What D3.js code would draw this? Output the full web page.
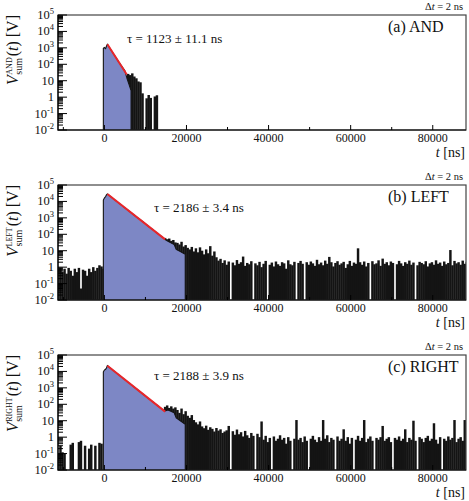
<!DOCTYPE html>
<html>
<head>
<meta charset="utf-8">
<script src="https://cdn.jsdelivr.net/npm/d3@7"></script>
<style>
body { margin: 0; background: #fff; }
text { font-family: "Liberation Serif", "Times New Roman", serif; fill: #111; }
</style>
</head>
<body>
<script>
'use strict';

(function() {

const width = 469;
const height = 501;

// axis ranges
const tMin = -11300, tMax = 88100;
const vMin = 0.01, vMax = 1e5;
const binStep = 500;               // ns covered by one noise value
const yDecades = [-2, -1, 0, 1, 2, 3, 4, 5];
const xTicks = [0, 20000, 40000, 60000, 80000];

const channels = ['AND', 'LEFT', 'RIGHT'];
const tags = ['(a) AND', '(b) LEFT', '(c) RIGHT'];
const tauLabels = ['τ = 1123 ± 11.1 ns', 'τ = 2186 ± 3.4 ns', 'τ = 2188 ± 3.9 ns'];

// main pulse (blue filled part), AND
const sigT_and = [-250, 0, 300, 500, 730, 1500, 2500, 3500, 4500, 5000, 5500, 6000, 6500];
const sigV_and = [950, 1050, 900, 1250, 1650, 830, 340, 140, 62, 40, 14, 6, 2.5];
// LEFT
const sigT_left = [-250, 0, 300, 500, 730, 2000, 4000, 6000, 8000, 9000, 10000, 11000, 12000, 13000, 14000, 14800, 15500, 16200, 17000, 17500, 18500, 19700];
const sigV_left = [12000, 16000, 20000, 25000, 28000, 15800, 6400, 2600, 1050, 700, 440, 270, 180, 110, 72, 48, 38, 30, 24, 12, 9, 6];
// RIGHT
const sigT_right = [-250, 0, 300, 500, 730, 2000, 4000, 6000, 8000, 10000, 11000, 12000, 13000, 14000, 14800, 15500, 16200, 17000, 17500, 18500, 19700];
const sigV_right = [9500, 12000, 13500, 16000, 22300, 12500, 5000, 2000, 800, 320, 200, 130, 82, 52, 40, 45, 38, 30, 15, 10, 6];

// exponential fit, end points
const fitT_and = [730, 5450],   fitV_and = [1650, 24];
const fitT_left = [730, 14800], fitV_left = [28000, 49];
const fitT_right = [730, 14800], fitV_right = [22300, 35.6];

// noise: peak value inside each 500 ns bin
const noiseStart_and = 5500;
const noise_and = [26, 22, 28, 18, 14, 9, 8, 1.7, 0, 0.85, 1.35, 0.9, 0, 1.1, 1.3];

const preStart = -11500;
const pre_left = [0.7, 0.9, 0.5, 0.8, 0.4, 0.9, 0.6, 0.3, 0.8, 0.5, 0.9, 0.05, 0.7, 0.6, 0.3, 0.8, 0.5, 1.0, 0.6, 0.9, 1.3, 1.1, 0.8];
const pre_right = [0.1, 0.3, 0.12, 0.1, 0, 0, 0.35, 0.45, 0, 0, 0.5, 0.6, 0, 0.3, 0, 0.2, 0.35, 0, 0.3, 0, 0.45, 0.4, 0];

const tailStart = 14500;
const tail_left = [
  60, 50, 55, 40, 45, 32,
  30, 24, 35, 18, 22, 15, 12, 17, 9, 14,
  8, 16, 10, 6, 12, 7, 19, 5, 9, 4,
  2.5, 3.2, 1.8, 2.6, 1.4, 2.2, 0, 1.9, 1.3, 2.7,
  1.6, 2.0, 4.4, 1.2, 1.8, 1.5, 2.3, 0, 1.7, 1.3,
  2.1, 1.0, 1.6, 2.4, 0, 1.4, 1.9, 1.1, 2.2, 1.5,
  1.2, 2.0, 1.7, 0.8, 2.6, 1.5, 1.3, 2.1, 0, 1.8,
  2.4, 1.6, 0, 2.0, 1.4, 2.2, 1.7, 1.2, 2.8, 1.5,
  1.9, 1.3, 2.5, 1.6, 4.2, 2.0, 1.1, 1.8, 2.3, 1.4,
  1.7, 2.1, 0.9, 1.5, 2.4, 1.2, 1.9, 1.6, 14, 2.0,
  1.4, 2.2, 1.1, 1.8, 0, 2.3, 1.5, 1.7, 2.6, 1.2,
  3.3, 1.6, 2.0, 1.3, 2.2, 1.8, 0, 1.5, 2.4, 1.7,
  1.2, 2.0, 1.6, 2.5, 1.4, 1.9, 0, 1.3, 2.1, 1.8,
  1.5, 2.3, 1.1, 1.7, 2.0, 1.4, 2.6, 1.6, 1.9, 1.2,
  2.2, 1.5, 1.8, 11, 1.3, 2.4, 1.7, 2.0, 1.4, 2.5,
  1.6, 2.1
];
const tail_right = [
  70, 85, 60, 75, 55, 65,
  45, 30, 55, 25, 38, 20, 15, 22, 11, 8,
  6, 9, 4.5, 3.5, 5, 2.8, 4, 3.2, 2.2, 3.6,
  2.5, 3.0, 1.8, 2.2, 2.6, 4.8, 0, 2.3, 1.4, 2.9,
  1.5, 2.0, 1.1, 2.4, 1.3, 0.9, 1.8, 1.2, 0, 1.6,
  1.0, 9, 0.7, 1.2, 0.5, 0.9, 0, 1.1, 0.6, 0.8,
  1.3, 0.7, 0.9, 0.4, 1.0, 0.6, 0, 0.8, 11, 0.7,
  0.9, 0.5, 1.1, 0.6, 0, 0.8, 1.2, 0.7, 0.5, 1.0,
  0.6, 11, 0.8, 1.3, 0.5, 0.9, 0.7, 0, 1.1, 0.6,
  0.8, 3.0, 0.6, 1.0, 0.4, 0.9, 0, 0.7, 1.2, 0.6,
  0.9, 11, 0.5, 0.8, 1.1, 0.6, 0, 0.9, 0.7, 1.0,
  4.8, 0.6, 0.8, 1.0, 0.5, 0, 0.9, 0.7, 1.1, 0.6,
  0.8, 3.0, 0.5, 0.9, 0.7, 10, 0.6, 0, 1.0, 0.8,
  0.5, 0.9, 1.2, 0.6, 0.8, 7, 0.7, 0.4, 1.0, 0,
  0.8, 0.6, 1.1, 0.7, 0.9, 11, 0.5, 0.8, 1.0, 0.6,
  11, 0.7
];

const panels = [
  { sigT: sigT_and, sigV: sigV_and, fitT: fitT_and, fitV: fitV_and,
    noise: [{ start: noiseStart_and, values: noise_and }] },
  { sigT: sigT_left, sigV: sigV_left, fitT: fitT_left, fitV: fitV_left,
    noise: [{ start: preStart, values: pre_left }, { start: tailStart, values: tail_left }] },
  { sigT: sigT_right, sigV: sigV_right, fitT: fitT_right, fitV: fitV_right,
    noise: [{ start: preStart, values: pre_right }, { start: tailStart, values: tail_right }] }
];

// layout
const panelTop = [15, 185, 355];
const plotH = 115;
const plotL = 58, plotR = 466;
const tauX = [127, 154, 154];
const tauDy = [28, 27, 25];

let svg = d3.select('body').append('svg')
    .attr('width', width)
    .attr('height', height);

let x = d3.scaleLinear()
    .domain([tMin, tMax])
    .range([plotL, plotR]);

function supLabel(sel, base, sup, size) {
    sel.append('tspan').text(base);
    if (sup !== null) {
        sel.append('tspan')
            .attr('dy', -5)
            .style('font-size', size + 'px')
            .text(sup);
    }
}

function yTitle(ch, top) {
    let g = svg.append('g');
    let cx = 0;
    let v = g.append('text').attr('x', cx)
        .style('font-size', '16px').style('font-style', 'italic').text('V');
    cx += v.node().getComputedTextLength() + 0.5;
    let s1 = g.append('text').attr('x', cx).attr('y', 4)
        .style('font-size', '10px').text('sum');
    let s2 = g.append('text').attr('x', cx).attr('y', -6)
        .style('font-size', '8px').text(ch);
    cx += Math.max(s1.node().getComputedTextLength(), s2.node().getComputedTextLength()) + 1;
    let rest = g.append('text').attr('x', cx).style('font-size', '16px');
    rest.append('tspan').text('(');
    rest.append('tspan').style('font-style', 'italic').text('t');
    rest.append('tspan').text(') [V]');
    cx += rest.node().getComputedTextLength();
    g.attr('transform', 'translate(18,' + (top + cx) + ') rotate(-90)');
}

panels.forEach(function(p, i) {
    let top = panelTop[i];
    let bottom = top + plotH;

    let y = d3.scaleLog()
        .domain([vMin, vMax])
        .range([bottom, top]);

    svg.append('clipPath').attr('id', 'clip' + i)
        .append('rect')
        .attr('x', plotL).attr('y', top)
        .attr('width', plotR - plotL).attr('height', plotH);

    let plot = svg.append('g').attr('clip-path', 'url(#clip' + i + ')');

    // noise bins (black)
    let bw = x(binStep) - x(0) + 0.4;
    p.noise.forEach(function(n) {
        let bins = n.values
            .map(function(v, k) { return { t: n.start + k * binStep, v: v }; })
            .filter(function(d) { return d.v > 0; });
        plot.append('g').selectAll('rect')
            .data(bins).enter()
            .append('rect')
            .attr('x', function(d) { return x(d.t); })
            .attr('width', bw)
            .attr('y', function(d) { return y(d.v); })
            .attr('height', function(d) { return bottom - y(d.v); })
            .style('fill', '#141414');
    });

    // main pulse
    let sig = p.sigT.map(function(t, k) { return { t: t, v: p.sigV[k] }; });
    plot.append('path')
        .datum(sig)
        .attr('d', d3.area()
            .x(function(d) { return x(d.t); })
            .y0(bottom)
            .y1(function(d) { return y(d.v); }))
        .style('fill', '#7d87c5');

    let outline = [{ t: sig[0].t, v: vMin }].concat(sig, [{ t: sig[sig.length - 1].t, v: vMin }]);
    plot.append('path')
        .datum(outline)
        .attr('d', d3.line()
            .x(function(d) { return x(d.t); })
            .y(function(d) { return y(d.v); }))
        .style('fill', 'none')
        .style('stroke', '#141414')
        .style('stroke-width', 1.1);

    // fit
    let fit = p.fitT.map(function(t, k) { return { t: t, v: p.fitV[k] }; });
    plot.append('path')
        .datum(fit)
        .attr('d', d3.line()
            .x(function(d) { return x(d.t); })
            .y(function(d) { return y(d.v); }))
        .style('fill', 'none')
        .style('stroke', '#e8262a')
        .style('stroke-width', 2);

    // frame
    svg.append('rect')
        .attr('x', plotL).attr('y', top)
        .attr('width', plotR - plotL).attr('height', plotH)
        .style('fill', 'none')
        .style('stroke', '#444')
        .style('stroke-width', 1.2);
    svg.append('path')
        .attr('d', 'M' + plotL + ',' + top + 'V' + bottom + 'H' + plotR)
        .style('fill', 'none').style('stroke', '#000').style('stroke-width', 1.2);

    // y ticks
    let axes = svg.append('g').style('stroke', '#000').style('stroke-width', 1);
    yDecades.forEach(function(e) {
        let v = Math.pow(10, e);
        axes.append('line')
            .attr('x1', plotL).attr('x2', plotL + 9)
            .attr('y1', y(v)).attr('y2', y(v));
        if (e < 5) {
            for (let m = 2; m <= 9; m++) {
                axes.append('line')
                    .attr('x1', plotL).attr('x2', plotL + 5)
                    .attr('y1', y(m * v)).attr('y2', y(m * v));
            }
        }
        let lab = svg.append('text')
            .attr('x', 54)
            .attr('y', y(v) + 4)
            .style('font-size', '12.5px')
            .style('text-anchor', 'end');
        if (e === 0) supLabel(lab, '1', null);
        else if (e === 1) supLabel(lab, '10', null);
        else supLabel(lab, '10', String(e), 8.5);
    });

    // x ticks
    d3.range(-10000, tMax, 10000).forEach(function(t) {
        let major = (t % 20000 === 0);
        axes.append('line')
            .attr('x1', x(t)).attr('x2', x(t))
            .attr('y1', bottom).attr('y2', bottom - (major ? 5 : 3));
    });
    xTicks.forEach(function(t) {
        svg.append('text')
            .attr('x', x(t))
            .attr('y', bottom + 11.5)
            .style('font-size', '12px')
            .style('text-anchor', 'middle')
            .text(t);
    });

    let xl = svg.append('text')
        .attr('x', 465)
        .attr('y', bottom + 27.2)
        .style('font-size', '14px')
        .style('text-anchor', 'end');
    xl.append('tspan').style('font-style', 'italic').text('t');
    xl.append('tspan').text(' [ns]');

    yTitle(channels[i], top);

    // annotations
    let dt = svg.append('text')
        .attr('x', 463)
        .attr('y', top - 5)
        .style('font-size', '10.5px')
        .style('text-anchor', 'end');
    dt.append('tspan').text('Δ');
    dt.append('tspan').style('font-style', 'italic').text('t');
    dt.append('tspan').text(' = 2 ns');

    svg.append('text')
        .attr('x', 388)
        .attr('y', top + 17)
        .style('font-size', '16px')
        .text(tags[i]);

    svg.append('text')
        .attr('x', tauX[i])
        .attr('y', top + tauDy[i])
        .style('font-size', '13px')
        .text(tauLabels[i]);
});

})();
</script>
</body>
</html>
